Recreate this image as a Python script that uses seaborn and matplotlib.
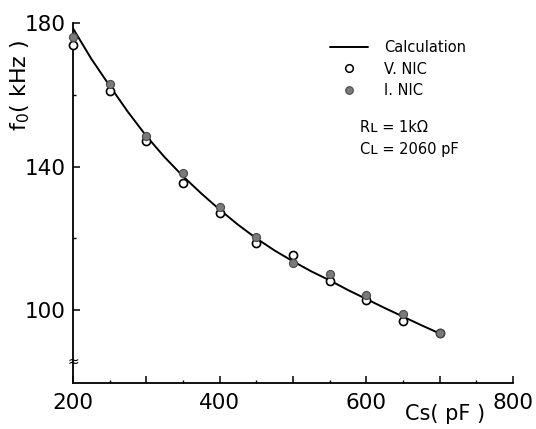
import matplotlib
matplotlib.use('Agg')
import matplotlib.pyplot as plt
import seaborn as sns
import pandas as pd
from matplotlib.lines import Line2D

# ---- data ----
cs_meas = [200, 250, 300, 350, 400, 450, 500, 550, 600, 650, 700]
v_nic = [173.8, 161.1, 147.2, 135.3, 127.2, 118.8, 115.3, 108.2, 102.8, 97.0, 93.5]
i_nic = [176.1, 163.1, 148.5, 138.1, 128.6, 120.3, 113.0, 110.0, 104.2, 98.9, 93.5]

calc_cs = [200, 225, 250, 275, 300, 325, 350, 375, 400, 425, 450,
           475, 500, 525, 550, 575, 600, 625, 650, 675, 700]
calc_f0 = [178.5, 170.0, 162.5, 155.2, 148.5, 142.6, 137.3, 132.5, 128.0, 123.8, 120.0,
           116.6, 113.6, 110.8, 108.3, 105.6, 103.1, 100.6, 98.2, 95.8, 93.5]

x_ticks = [200, 300, 400, 500, 600, 700, 800]
x_labels = ['200', '', '400', '', '600', '', '800']
y_ticks = [100, 140, 180]
y_labels = ['100', '140', '180']

legend_labels = ['Calculation', 'V. NIC', 'I. NIC']
note_lines = ['R\u029f = 1k\u03a9', 'C\u029f = 2060 pF']

# ---- figure ----
sns.set_style('ticks')
plt.rcParams['font.family'] = ['DejaVu Sans']
plt.rcParams['text.color'] = 'black'
plt.rcParams['xtick.color'] = 'black'
plt.rcParams['ytick.color'] = 'black'
plt.rcParams['xtick.direction'] = 'in'
plt.rcParams['ytick.direction'] = 'in'

fig = plt.figure(figsize=(5.36, 4.29), dpi=100)
ax = fig.add_axes([73/536, 1 - 383/429, (513-73)/536, (383-23)/429])

calc_df = pd.DataFrame({'Cs': calc_cs, 'f0': calc_f0})
meas_df = pd.DataFrame({'Cs': cs_meas, 'V': v_nic, 'I': i_nic})

sns.lineplot(data=calc_df, x='Cs', y='f0', ax=ax, color='black', linewidth=1.4,
             sort=False, legend=False)
sns.scatterplot(data=meas_df, x='Cs', y='V', ax=ax, s=34, marker='o',
                facecolor='white', edgecolor='black', linewidth=1.2, zorder=3,
                clip_on=False, legend=False)
sns.scatterplot(data=meas_df, x='Cs', y='I', ax=ax, s=34, marker='o',
                facecolor='#7a7a7a', edgecolor='#4a4a4a', linewidth=0.8, zorder=4,
                clip_on=False, legend=False)

ax.set_xlim(200, 800)
ax.set_ylim(79.7, 180)

for s in ['top', 'right']:
    ax.spines[s].set_visible(False)
for s in ['left', 'bottom']:
    ax.spines[s].set_linewidth(1.3)
    ax.spines[s].set_color('black')

ax.set_xticks(x_ticks)
ax.set_xticklabels(x_labels)
ax.set_xticks([250, 350, 450, 550, 650, 750], minor=True)
ax.set_yticks(y_ticks)
ax.set_yticklabels(y_labels)
ax.set_yticks([120, 160], minor=True)

ax.tick_params(axis='both', which='major', direction='in', length=5, width=1.1,
               labelsize=15.5, colors='black', pad=7)
ax.tick_params(axis='both', which='minor', direction='in', length=2.3, width=1.0,
               colors='black')
ax.tick_params(axis='y', which='major', pad=5)

ax.set_xlabel('')
ax.set_ylabel('')

# axis labels
fig.text(20/536, 1 - 85/429, 'f$_\\mathregular{0}$( kHz )', rotation=90, fontsize=16,
         ha='center', va='center', color='black')
fig.text(445/536, 1 - 414/429, 'Cs( pF )', fontsize=15, ha='center', va='center',
         color='black')

# axis break mark
ax.text(0, 85.5, '\u2248', transform=ax.get_yaxis_transform(), fontsize=10,
        ha='center', va='center', color='black')

# legend
handles = [
    Line2D([], [], color='black', linewidth=1.4),
    Line2D([], [], linestyle='none', marker='o', markersize=5.5,
           markerfacecolor='white', markeredgecolor='black', markeredgewidth=1.1),
    Line2D([], [], linestyle='none', marker='o', markersize=5.5,
           markerfacecolor='#7a7a7a', markeredgecolor='#4a4a4a', markeredgewidth=0.8),
]
leg = ax.legend(handles, legend_labels, loc='upper left',
                bbox_to_anchor=(330/536, 1 - 40/429), bbox_transform=fig.transFigure,
                frameon=False, fontsize=10.5, handlelength=2.6, handletextpad=1.1,
                labelspacing=0.45, borderpad=0, borderaxespad=0)
for t in leg.get_texts():
    t.set_color('black')

fig.text(360/536, 1 - 128/429, note_lines[0], fontsize=10.5, ha='left', va='center',
         color='black')
fig.text(360/536, 1 - 150/429, note_lines[1], fontsize=10.5, ha='left', va='center',
         color='black')

fig.savefig('out.png', dpi=100, facecolor='white')
